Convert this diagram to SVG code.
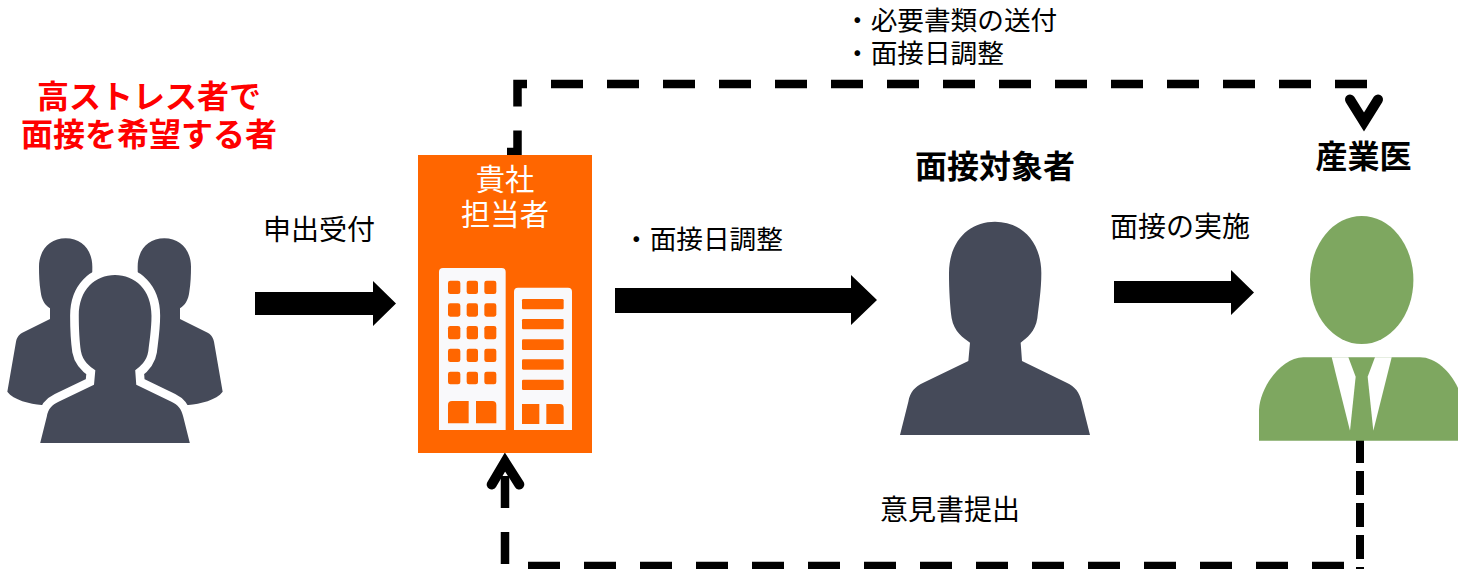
<svg xmlns="http://www.w3.org/2000/svg" width="1458" height="569" viewBox="0 0 1458 569">
<style>
text{font-family:"Noto Sans CJK JP","Noto Sans",sans-serif;fill:#000;font-size:26.67px}
.b{font-weight:700;font-size:32px}
.r{fill:#f00}
.c{text-anchor:middle}
.w{fill:#fff;font-size:29.3px}
.dash{fill:none;stroke:#000;stroke-width:8.5;stroke-dasharray:32 24}
.head{fill:none;stroke:#000;stroke-width:10;stroke-linecap:round;stroke-linejoin:miter;stroke-miterlimit:10}
.p{fill:#454a59}
.o{fill:#f60}
.f{fill:#f9f9fb}
</style>
<defs>
<path id="person" d="M345 35C420 35 484 90 484 190C484 240 476 290 472 325C466 365 440 385 422 398L426 453L560 518C585 530 598 545 605 575L630 675L60 675L85 575C90 545 105 530 130 518L265 453L270 398C250 385 222 365 215 325C210 290 207 240 207 190C207 90 270 35 345 35Z"/>
<path id="back" d="M197 55C245 55 277 90 277 140C277 175 275 210 268 225C260 245 250 258 243 265L243 297L330 340L330 555L125 555C90 552 40 540 22 515L48 365C52 350 58 343 70 337L150 297L150 265C135 255 125 240 122 215C118 190 117 165 117 140C117 90 150 55 197 55Z"/>
</defs>

<g id="connectors">
<path class="dash" d="M1367 84H517.5V152H507"/>
<path class="head" d="M1350 99.5L1364 122L1378 99.5"/>
<path class="dash" d="M1344 566H505"/>
<path class="dash" d="M505 564V476"/>
<path class="head" d="M491.7 484.5L505 462L519.3 484.5"/>
<path d="M1360 439V569" fill="none" stroke="#000" stroke-width="8" stroke-dasharray="24 8"/>
<path d="M255 292H373V281L396 303.5L373 326V315H255Z"/>
<path d="M615 288H851V275L877 300L851 325V313H615Z"/>
<path d="M1114 281H1231V270L1254 292.5L1231 315V303H1114Z"/>
</g>

<g id="applicants">
<g transform="translate(0 220) scale(.33333)">
<use href="#back" class="p"/>
<use href="#back" class="p" transform="translate(690 0) scale(-1 1)"/>
<g transform="translate(345 165) scale(.7874) translate(-345 -35)">
<use href="#person" class="p" stroke="#fff" stroke-width="66" stroke-linejoin="round"/>
<use href="#person" class="p"/>
</g>
</g>
<rect x="0" y="443" width="240" height="30" fill="#fff"/>
<text class="b r c" x="149" y="108">高ストレス者で</text>
<text class="b r c" x="149" y="146">面接を希望する者</text>
</g>

<g id="company">
<rect class="o" x="418" y="155" width="174" height="298"/>
<text class="w c" x="505" y="190">貴社</text>
<text class="w c" x="505" y="225">担当者</text>
<g transform="translate(410 70) scale(.33333)">
<path class="f" d="M87 1080V606Q87 594 99 594H275Q287 594 287 606V1080Z"/>
<path class="f" d="M312 1080V665Q312 653 324 653H474Q486 653 486 665V1080Z"/>
<g class="o">
<rect x="114" y="632" width="37" height="40" rx="7"/><rect x="170" y="632" width="34" height="40" rx="7"/><rect x="223" y="632" width="36" height="40" rx="7"/>
<rect x="114" y="700" width="37" height="40" rx="7"/><rect x="170" y="700" width="34" height="40" rx="7"/><rect x="223" y="700" width="36" height="40" rx="7"/>
<rect x="114" y="768" width="37" height="40" rx="7"/><rect x="170" y="768" width="34" height="40" rx="7"/><rect x="223" y="768" width="36" height="40" rx="7"/>
<rect x="114" y="836" width="37" height="40" rx="7"/><rect x="170" y="836" width="34" height="40" rx="7"/><rect x="223" y="836" width="36" height="40" rx="7"/>
<rect x="114" y="905" width="37" height="38" rx="7"/><rect x="170" y="905" width="34" height="38" rx="7"/><rect x="223" y="905" width="36" height="38" rx="7"/>
<path d="M114 1060V1005Q114 993 126 993H176V1060Z"/><path d="M198 1060V993H247Q259 993 259 1005V1060Z"/>
<rect x="336" y="687" width="125" height="31" rx="4"/><rect x="336" y="747" width="125" height="31" rx="4"/><rect x="336" y="808" width="125" height="32" rx="4"/><rect x="336" y="868" width="125" height="31" rx="4"/><rect x="336" y="929" width="125" height="31" rx="4"/>
<path d="M336 1062V1002H388V1062Z"/><path d="M409 1062V1002H449Q461 1002 461 1014V1062Z"/>
</g>
</g>
</g>

<g id="interviewee">
<use href="#person" class="p" transform="translate(880 210) scale(.33333)"/>
<text class="b c" x="995" y="178">面接対象者</text>
</g>

<g id="doctor">
<ellipse cx="1361.7" cy="280" rx="51.7" ry="64" fill="#7ea760"/>
<g transform="translate(1240 70) scale(.33333)">
<path fill="#7ea760" d="M57 1112V1020C60 950 125 862 190 862H540C600 862 654 930 670 1000V1112Z"/>
<path fill="#fff" d="M275 862H325L347 920L330 1082Z"/>
<path fill="#fff" d="M405 862H455L400 1082L383 920Z"/>
</g>
<text class="b c" x="1363.500" y="168">産業医</text>
</g>

<g id="labels">
<text x="844" y="30">・必要書類の送付</text>
<text x="844" y="63">・面接日調整</text>
<text x="263" y="240" style="font-size:28px">申出受付</text>
<text x="623" y="249">・面接日調整</text>
<text x="1110" y="237" style="font-size:28px">面接の実施</text>
<text x="880" y="520" style="font-size:28px">意見書提出</text>
</g>
</svg>
